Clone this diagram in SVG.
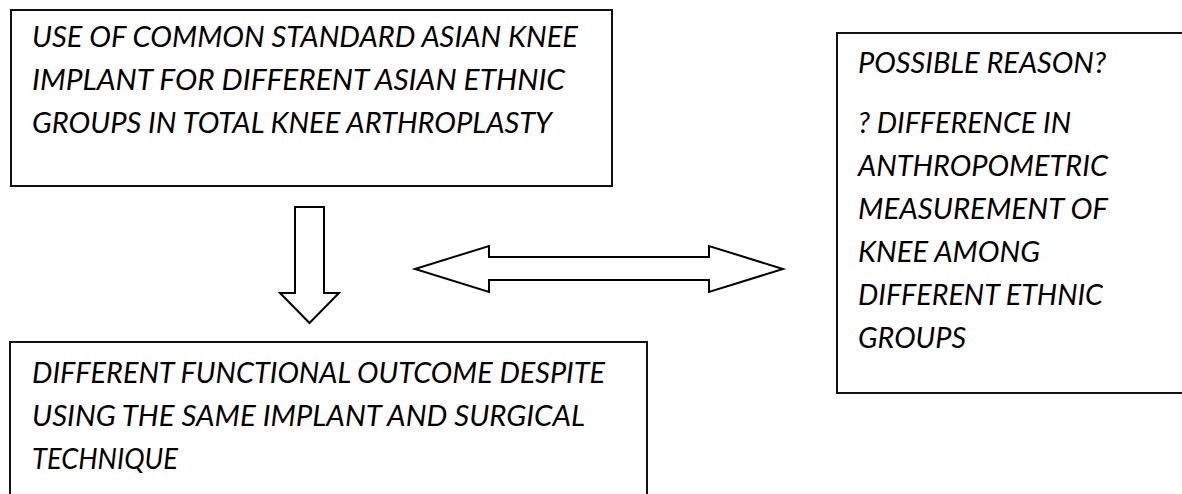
<svg xmlns="http://www.w3.org/2000/svg" width="1182" height="494" viewBox="0 0 1182 494">
<style>
.box{fill:#fff;stroke:#111;stroke-width:2}
.t{font-family:Lato,"Open Sans","Liberation Sans",sans-serif;font-style:italic;font-size:28.5px;fill:#000}
.arr{fill:#fff;stroke:#000;stroke-width:2;stroke-linejoin:miter}
</style>
<rect width="1182" height="494" fill="#fff"/>
<g id="node-implant">
<rect class="box" x="11" y="10" width="601" height="176"/>
<text class="t" x="32" y="47" textLength="546" lengthAdjust="spacingAndGlyphs">USE OF COMMON STANDARD ASIAN KNEE</text>
<text class="t" x="32" y="90" textLength="533" lengthAdjust="spacingAndGlyphs">IMPLANT FOR DIFFERENT ASIAN ETHNIC</text>
<text class="t" x="32" y="133" textLength="520" lengthAdjust="spacingAndGlyphs">GROUPS IN TOTAL KNEE ARTHROPLASTY</text>
</g>
<g id="node-reason">
<rect class="box" x="837" y="33" width="360" height="360"/>
<text class="t" x="858" y="73" textLength="248" lengthAdjust="spacingAndGlyphs">POSSIBLE REASON?</text>
<text class="t" x="858" y="133" textLength="213" lengthAdjust="spacingAndGlyphs">? DIFFERENCE IN</text>
<text class="t" x="858" y="176" textLength="250" lengthAdjust="spacingAndGlyphs">ANTHROPOMETRIC</text>
<text class="t" x="858" y="219" textLength="250" lengthAdjust="spacingAndGlyphs">MEASUREMENT OF</text>
<text class="t" x="858" y="262" textLength="182" lengthAdjust="spacingAndGlyphs">KNEE AMONG</text>
<text class="t" x="858" y="305" textLength="245" lengthAdjust="spacingAndGlyphs">DIFFERENT ETHNIC</text>
<text class="t" x="858" y="348" textLength="108" lengthAdjust="spacingAndGlyphs">GROUPS</text>
</g>
<g id="node-outcome">
<rect class="box" x="10" y="342" width="637" height="170"/>
<text class="t" x="32" y="383" textLength="573" lengthAdjust="spacingAndGlyphs">DIFFERENT FUNCTIONAL OUTCOME DESPITE</text>
<text class="t" x="32" y="426" textLength="553" lengthAdjust="spacingAndGlyphs">USING THE SAME IMPLANT AND SURGICAL</text>
<text class="t" x="32" y="469" textLength="146" lengthAdjust="spacingAndGlyphs">TECHNIQUE</text>
</g>
<g id="connectors">
<polygon id="arrow-down" class="arr" points="295,207 324,207 324,293 339,293 309.5,323 280,293 295,293"/>
<polygon id="arrow-double" class="arr" points="415,269 489,246 489,257 709,257 709,246 783,269 709,292 709,280 489,280 489,292"/>
</g>
</svg>
